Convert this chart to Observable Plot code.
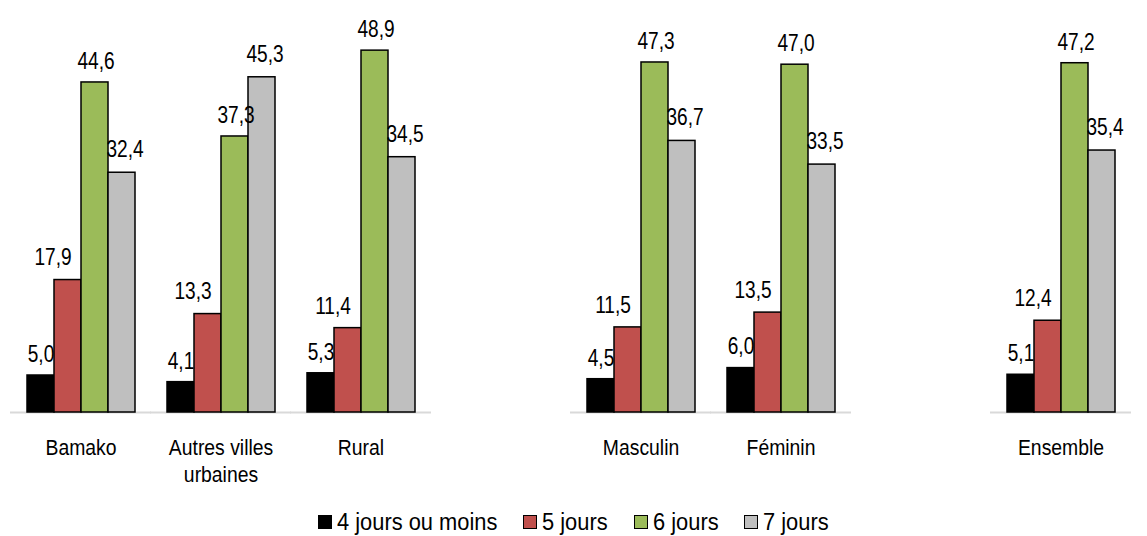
<!DOCTYPE html>
<html><head><meta charset="utf-8">
<script src="https://cdn.jsdelivr.net/npm/d3@7"></script>
<script src="https://cdn.jsdelivr.net/npm/@observablehq/plot@0.6"></script>
<style>
body{margin:0;background:#fff;font-family:"Liberation Sans",Arial,sans-serif;}
#wrap{position:relative;width:1147px;height:536px;}
#legend{position:absolute;top:508px;left:0;width:1147px;height:28px;display:flex;align-items:center;justify-content:center;font-size:23px;color:#000;}
#legend .item{display:flex;align-items:center;margin:0 13px;}
#legend .sw{width:14px;height:14px;border:1px solid #000;margin-right:5px;box-sizing:border-box;}
#legend .lab{display:inline-block;overflow:visible;white-space:nowrap;}
#legend .inner{display:inline-block;transform-origin:0 50%;}
</style></head>
<body><div id="wrap"><div id="chart"></div><div id="legend"></div></div>
<script>
const slots = ["Bamako","Autres villes\nurbaines","Rural","_gap1","Masculin","Féminin","_gap2","Ensemble"];
const groups = ["Bamako","Autres villes\nurbaines","Rural","Masculin","Féminin","Ensemble"];
const series = ["4 jours ou moins","5 jours","6 jours","7 jours"];
const colors = ["#000000","#c0504d","#9bbb59","#bfbfbf"];
const v4 = [5.0,4.1,5.3,4.5,6.0,5.1];
const v5 = [17.9,13.3,11.4,11.5,13.5,12.4];
const v6 = [44.6,37.3,48.9,47.3,47.0,47.2];
const v7 = [32.4,45.3,34.5,36.7,33.5,35.4];
const seriesValues = [v4,v5,v6,v7];
const labelDx = [0,-15,1,3];
const labelDy = [-21,-22,-21,-23];

const data = [];
series.forEach((s,si)=>groups.forEach((g,gi)=>data.push({group:g, serie:s, si, value:seriesValues[si][gi]})));
const fmt = v => v.toFixed(1).replace(".", ",");

const font = '"Liberation Sans", Arial, sans-serif';
const chart = Plot.plot({
  width:1147, height:500,
  marginLeft:10, marginRight:16, marginTop:42, marginBottom:88,
  style:{fontFamily:font, fontSize:"23px", background:"#fff", color:"#000"},
  fx:{domain:slots, paddingInner:0.2246, paddingOuter:0.1, label:null, axis:null},
  x:{domain:series, padding:0, axis:null},
  y:{domain:[0,50], axis:null},
  color:{domain:series, range:colors},
  marks:[
    Plot.ruleY([0], {stroke:"#d9d9d9", strokeWidth:2, insetLeft:-16, insetRight:-16}),
    Plot.barY(data, {fx:"group", x:"serie", y:"value", fill:"serie", stroke:"#000", strokeWidth:1.5}),
    ...series.map((s,si)=>Plot.text(data.filter(d=>d.si===si), {fx:"group", x:"serie", y:"value", text:d=>fmt(d.value), dx:labelDx[si], dy:labelDy[si], fill:"#000", fontSize:23, className:"vlab"})),
    Plot.axisFx({anchor:"bottom", tickSize:0, tickPadding:23, fontSize:22, lineHeight:1.23, tickFormat:d=>d.startsWith("_")?"":d, label:null})
  ]
});
document.getElementById("chart").appendChild(chart);

// condense glyphs horizontally to mimic the narrow typeface of the original
function condense(el, k){
  const L = el.getComputedTextLength();
  if (L > 0) { el.setAttribute("textLength", (L*k).toFixed(2)); el.setAttribute("lengthAdjust","spacingAndGlyphs"); }
}
chart.querySelectorAll(".vlab text").forEach(t=>condense(t, 0.83));
chart.querySelectorAll('g[aria-label="fx-axis tick label"] text').forEach(t=>{
  const ts = t.querySelectorAll("tspan");
  if (ts.length) ts.forEach(s=>condense(s, 0.88)); else condense(t, 0.88);
});

const legend = document.getElementById("legend");
series.forEach((s,i)=>{
  const it = document.createElement("div"); it.className="item";
  const sw = document.createElement("div"); sw.className="sw"; sw.style.background=colors[i];
  const lab = document.createElement("span"); lab.className="lab";
  const inner = document.createElement("span"); inner.className="inner"; inner.textContent=s;
  lab.appendChild(inner);
  it.appendChild(sw); it.appendChild(lab); legend.appendChild(it);
  const w = inner.getBoundingClientRect().width;
  inner.style.transform = "scaleX(0.95)";
  lab.style.width = (w*0.95).toFixed(1)+"px";
});
</script></body></html>
